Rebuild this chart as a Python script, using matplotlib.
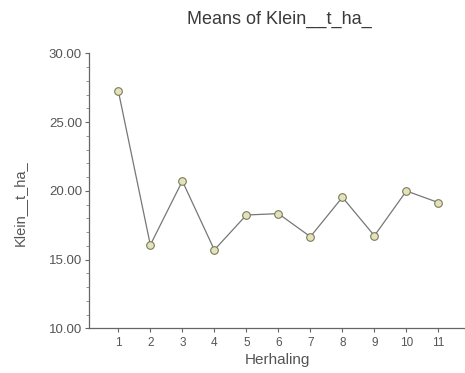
import matplotlib
matplotlib.use("Agg")
import matplotlib.pyplot as plt
from matplotlib.ticker import MultipleLocator, FormatStrFormatter

herhaling = [1, 2, 3, 4, 5, 6, 7, 8, 9, 10, 11]
means = [27.26, 16.06, 20.71, 15.70, 18.24, 18.34, 16.66, 19.53, 16.73, 19.99, 19.14]

plt.rcParams['font.family'] = ['Liberation Sans', 'DejaVu Sans']

fig = plt.figure(figsize=(4.65, 3.73), dpi=100)
ax = fig.add_axes([89/465, 1-328.3/373, 1-89/465, (328.3-53.3)/373])

col = '#555555'
ax.plot(herhaling, means, color='#777777', lw=0.9, marker='o', ms=5.5,
        mfc='#e6e2b8', mec='#7a7a60', mew=0.8, zorder=3)

ax.set_xlim(0.084, 11.83)
ax.set_ylim(10, 30)
ax.set_xticks(herhaling)
ax.yaxis.set_major_locator(MultipleLocator(5))
ax.yaxis.set_minor_locator(MultipleLocator(1))
ax.yaxis.set_major_formatter(FormatStrFormatter('%.2f'))
for s in ['top', 'right']:
    ax.spines[s].set_visible(False)
for s in ['left', 'bottom']:
    ax.spines[s].set_color('#666666')
    ax.spines[s].set_linewidth(0.9)
ax.tick_params(axis='both', colors='#666666', labelcolor=col, length=3, width=0.8)
ax.tick_params(axis='x', labelsize=8.5)
ax.tick_params(axis='y', labelsize=9.5, pad=2)
ax.tick_params(axis='y', which='minor', length=2, width=0.6, colors='#888888')

ax.set_xlabel('Herhaling', fontsize=11, color=col, labelpad=3)
ax.set_ylabel('Klein__t_ha_', fontsize=10.5, color=col)
ax.yaxis.set_label_coords(27/465, 1-203/373, transform=fig.transFigure)
fig.text(279/465, 1-19/373, 'Means of Klein__t_ha_', ha='center', va='center', fontsize=13, color='#3a3a3a')

fig.savefig('out.png', dpi=100, facecolor='white')
